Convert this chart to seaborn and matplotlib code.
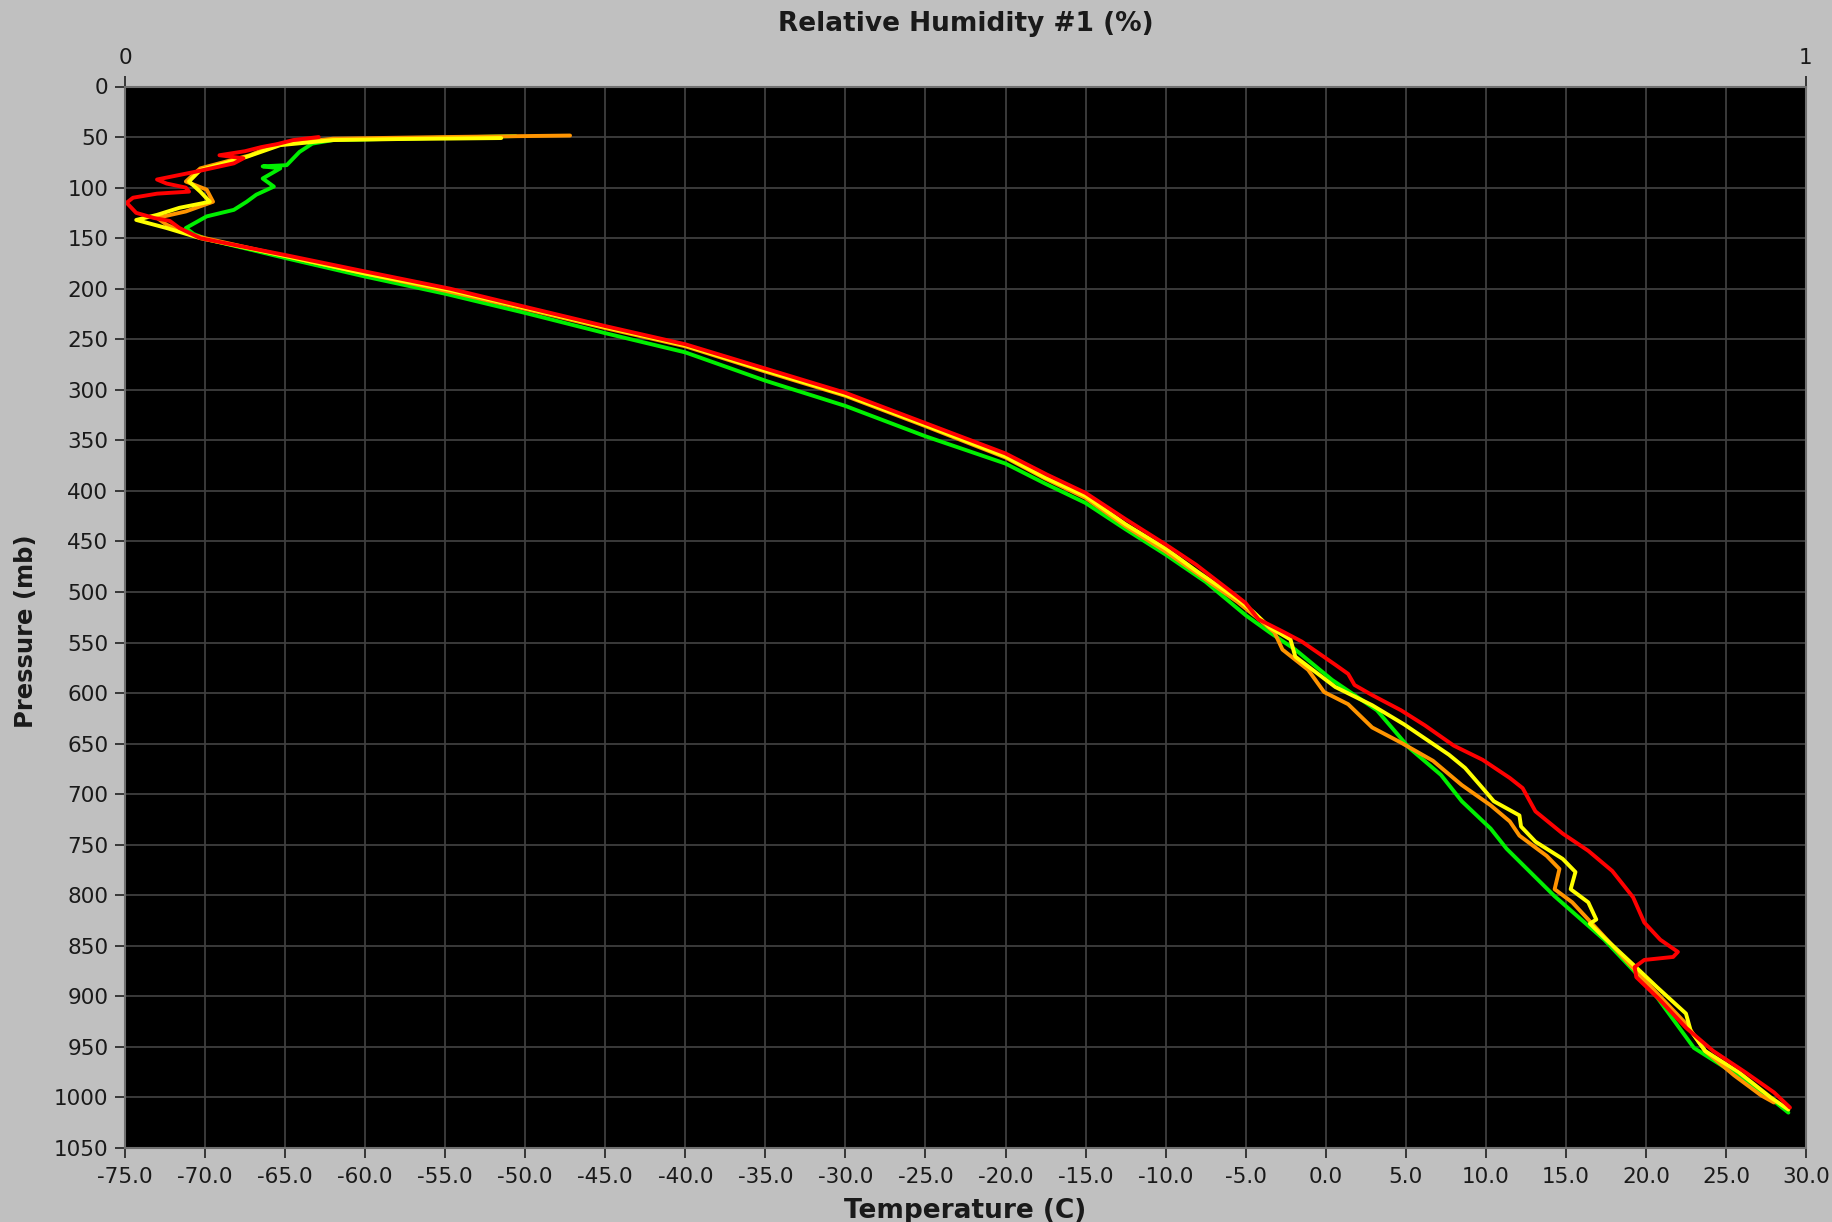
import matplotlib
matplotlib.use("Agg")
import matplotlib.pyplot as plt
import seaborn as sns
import pandas as pd
import numpy as np

# ---------------- data ----------------
green_T = [-50.6, -56.0, -62.0, -63.3, -64.1, -64.9, -66.4, -65.3, -66.4, -65.7, -66.8, -67.4, -68.2,
           -69.9, -71.2, -70.7, -69.9, -64.9, -60.0, -55.0, -50.0, -45.0, -40.0, -35.0, -30.0, -25.0,
           -20.0, -17.5, -15.0, -12.5, -10.0, -7.5, -5.0, -3.5, -1.9, 0.4, 3.2, 5.2, 7.2, 8.5, 10.3,
           11.3, 14.3, 17.4, 19.2, 20.7, 23.0, 25.5, 27.8, 28.9]
green_P = [49, 51, 53, 56.5, 64.7, 77.8, 79, 81, 91, 99, 107, 114, 122,
           128.5, 140, 146, 151, 170, 188, 205, 224, 244, 263, 291, 316, 346,
           373, 393, 412, 438, 463, 490, 523, 540, 557, 587, 617, 654, 681, 707, 734,
           754, 801, 844, 874, 901, 951, 976, 1001, 1015]

yellow_T = [-51.5, -58.0, -62.0, -65.3, -67.4, -70.3, -71.0, -70.3, -69.7, -71.6, -73.0, -74.3, -72.4,
            -70.3, -64.9, -60.0, -54.8, -50.0, -45.0, -40.0, -35.0, -30.0, -25.0, -20.0, -17.5, -15.0,
            -12.5, -10.0, -8.0, -5.5, -4.5, -3.5, -2.2, -1.9, 0.6, 2.9, 4.9, 7.7, 8.7, 9.8, 10.5,
            12.1, 12.2, 13.1, 14.8, 15.6, 15.3, 16.4, 16.9, 16.5, 17.4, 19.3, 20.7, 22.5, 22.8,
            23.7, 25.8, 27.8, 28.9]
yellow_P = [51, 52, 53, 58, 69.6, 82.7, 94, 104, 114, 120, 127, 132, 140,
            150, 168, 185, 201, 219, 238, 256, 281, 305, 335, 366, 387, 405,
            433, 457, 480, 507, 520, 535, 547, 564, 594, 612, 631, 661, 674, 694, 707,
            721, 732, 747, 764, 777, 794, 807, 824, 828, 842, 870, 891, 917, 934,
            954, 975, 1000, 1012]

orange_T = [-47.2, -55.0, -62.0, -65.7, -67.2, -70.3, -71.2, -69.9, -69.5, -71.2, -73.0, -72.4, -71.2,
            -70.0, -64.9, -60.0, -55.0, -50.0, -45.0, -40.0, -35.0, -30.0, -25.0, -20.0, -17.5, -15.0,
            -12.5, -10.0, -8.0, -5.5, -4.4, -3.2, -2.7, -1.1, -0.1, 1.4, 2.9, 4.7, 6.7, 8.5, 10.3,
            11.5, 12.1, 13.8, 14.6, 14.3, 15.4, 17.4, 18.9, 20.7, 22.5, 23.7, 25.5, 27.2, 28.0]
orange_P = [48.5, 50, 51.6, 58, 68, 81, 94, 102, 114, 123.6, 130, 136.7, 145,
            150, 168, 185, 202, 220, 239, 257, 282, 306, 336, 367, 388, 407,
            435, 460, 482, 510, 524, 540, 557, 577, 599, 611, 634, 649, 667, 691, 711,
            727, 741, 761, 774, 794, 807, 841, 867, 897, 927, 954, 978, 998, 1005]

red_T = [-62.9, -64.5, -65.5, -66.5, -67.5, -69.1, -67.6, -68.2, -70.5, -73.0, -72.4, -71.2, -71.0,
         -73.0, -74.5, -74.9, -74.3, -73.2, -72.2, -71.6, -70.3, -64.9, -60.0, -54.7, -50.0, -45.0,
         -40.0, -35.0, -30.0, -25.0, -20.0, -17.4, -15.0, -12.5, -10.0, -8.1, -5.8, -5.0, -4.2, -2.7,
         -1.5, -0.4, 0.6, 1.4, 1.8, 2.9, 4.7, 6.2, 8.0, 9.8, 11.5, 12.3, 13.1, 14.8, 16.4, 17.9,
         19.2, 19.9, 20.9, 22.0, 21.7, 19.9, 19.3, 19.4, 20.9, 22.5, 24.2, 26.2, 28.0, 29.0]
red_P = [50, 53, 57, 60, 64, 68, 71, 76, 84, 92, 96, 100, 104,
         106, 110, 115, 125, 130, 133, 140, 150, 167, 183, 200, 218, 237,
         255, 279, 303, 333, 363, 384, 402, 428, 453, 473, 501, 511, 527, 539,
         549, 561, 572, 581, 592, 602, 617, 632, 652, 666, 684, 694, 717, 739, 756, 776,
         802, 827, 844, 856, 861, 864, 871, 881, 904, 931, 954, 975, 995, 1010]

series_colors = {"green": "#00f000", "yellow": "#ffff00", "orange": "#ff9400", "red": "#ff0000"}

x_ticks = [-75, -70, -65, -60, -55, -50, -45, -40, -35, -30, -25, -20, -15, -10, -5, 0, 5, 10, 15, 20, 25, 30]
y_ticks = list(range(0, 1051, 50))

# ---------------- build table ----------------
frames = []
for name, T, P in [("green", green_T, green_P), ("orange", orange_T, orange_P),
                   ("yellow", yellow_T, yellow_P), ("red", red_T, red_P)]:
    frames.append(pd.DataFrame({"T": T, "P": P, "series": name}))
df = pd.concat(frames, ignore_index=True)

# ---------------- figure ----------------
sns.set_theme(style="dark")
plt.rcParams["font.family"] = ["DejaVu Sans"]
plt.rcParams["axes.unicode_minus"] = False

W, H = 1833, 1222
fig = plt.figure(figsize=(W / 100, H / 100), dpi=100, facecolor="#c0c0c0")
L, R, T_, B = 125, 1806, 86.5, 1148
ax = fig.add_axes([L / W, 1 - B / H, (R - L) / W, (B - T_) / H])
ax.set_facecolor("black")

for name in ["green", "orange", "yellow", "red"]:
    sub = df[df["series"] == name]
    sns.lineplot(data=sub, x="T", y="P", sort=False, estimator=None, ax=ax,
                 color=series_colors[name], linewidth=2.8, legend=False)

ax.set_xlim(-75, 30)
ax.set_ylim(1050, 0)
ax.set_xticks(x_ticks)
ax.set_xticklabels([f"{v:.1f}" for v in x_ticks])
ax.set_yticks(y_ticks)
ax.set_yticklabels([str(v) for v in y_ticks])
ax.grid(True, color="#3f3f3f", linewidth=1.3)
ax.set_axisbelow(True)
for s in ax.spines.values():
    s.set_color("#707070")
    s.set_linewidth(1.5)
ax.tick_params(axis="both", which="major", direction="out", length=7, width=1.2,
               color="#202020", labelsize=15.5, labelcolor="#1a1a1a", pad=5, bottom=True, left=True)
ax.tick_params(axis="x", pad=7)
ax.set_xlabel("")
ax.set_ylabel("")

# top humidity axis
ax2 = ax.twiny()
ax2.set_xlim(0, 1)
ax2.set_xticks([0, 1])
ax2.set_xticklabels(["0", "1"])
ax2.tick_params(axis="x", direction="out", length=7, width=1.2, color="#202020",
                labelsize=15.5, labelcolor="#1a1a1a", pad=6)
ax2.grid(False)
for s in ax2.spines.values():
    s.set_visible(False)

fig.text((L + R) / 2 / W, 1 - 24 / H, "Relative Humidity #1 (%)", ha="center", va="center",
         fontsize=19, fontweight="bold", color="#1a1a1a")
fig.text((L + R) / 2 / W, 1 - 1198 / H, "Temperature (C)", ha="center", va="top",
         fontsize=19, fontweight="bold", color="#1a1a1a")
fig.text(26 / W, 1 - 631 / H, "Pressure (mb)", ha="center", va="center", rotation=90,
         fontsize=17.5, fontweight="bold", color="#1a1a1a")

fig.savefig("out.png", dpi=100, facecolor=fig.get_facecolor())
